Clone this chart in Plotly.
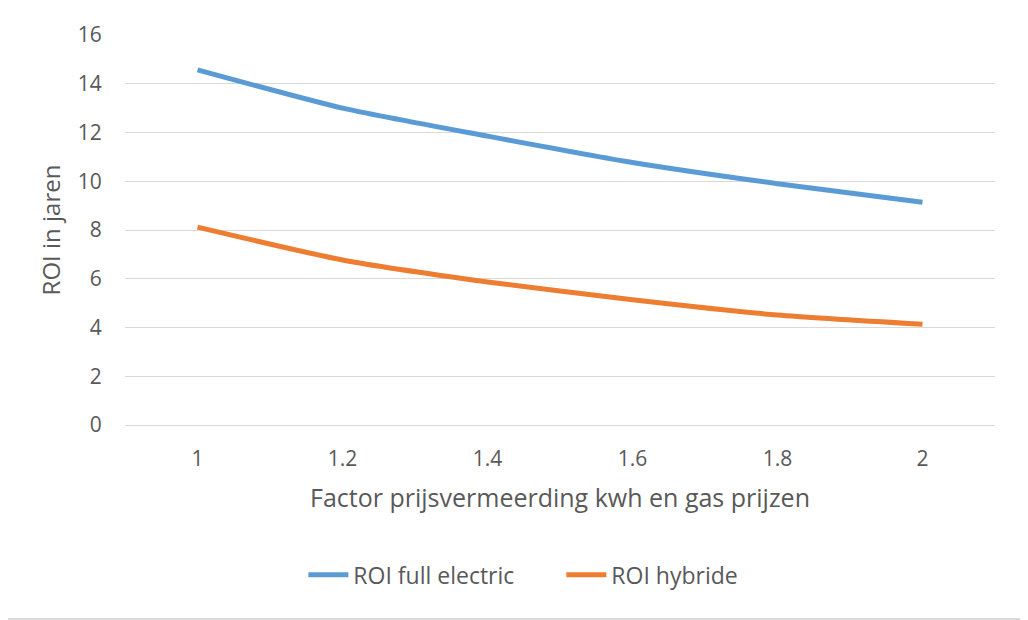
import plotly.graph_objects as go

# --- Data ---
factor = ["1", "1.2", "1.4", "1.6", "1.8", "2"]
roi_full_electric = [14.57, 13.0, 11.85, 10.77, 9.9, 9.14]
roi_hybride = [8.12, 6.77, 5.87, 5.14, 4.51, 4.13]

grey_text = "#595959"
font_family = "Open Sans, Noto Sans, sans-serif"

fig = go.Figure()
fig.add_trace(
    go.Scatter(
        x=factor,
        y=roi_full_electric,
        mode="lines",
        line=dict(color="#5B9BD5", width=5, shape="spline", smoothing=0.6),
        name="ROI full electric",
    )
)
fig.add_trace(
    go.Scatter(
        x=factor,
        y=roi_hybride,
        mode="lines",
        line=dict(color="#ED7D31", width=5, shape="spline", smoothing=0.6),
        name="ROI hybride",
    )
)

# page has an 8px body margin, so margins are shifted by that
fig.update_layout(
    width=1028,
    height=620,
    margin=dict(l=117, r=41, t=21, b=203),
    paper_bgcolor="white",
    plot_bgcolor="white",
    font=dict(family=font_family, color=grey_text, size=21),
    showlegend=True,
    legend=dict(
        orientation="h",
        x=0.205,
        xanchor="left",
        y=-0.384,
        yanchor="middle",
        font=dict(size=23, color=grey_text),
        itemwidth=40,
        entrywidth=203,
    ),
    xaxis=dict(
        type="category",
        range=[-0.5, 5.5],
        showgrid=False,
        zeroline=False,
        showline=False,
        ticks="outside",
        ticklen=15,
        tickcolor="rgba(0,0,0,0)",
        tickfont=dict(size=21, color=grey_text),
        title=dict(
            text="Factor prijsvermeerding kwh en gas prijzen",
            font=dict(size=25, color=grey_text),
            standoff=18,
        ),
    ),
    yaxis=dict(
        range=[0, 16],
        dtick=2,
        showgrid=True,
        gridcolor="#D9D9D9",
        gridwidth=1.3,
        zeroline=True,
        zerolinecolor="#D9D9D9",
        zerolinewidth=1.3,
        showline=False,
        ticks="outside",
        ticklen=18,
        tickcolor="rgba(0,0,0,0)",
        tickfont=dict(size=21, color=grey_text),
        title=dict(text="ROI in jaren", font=dict(size=24, color=grey_text), standoff=10),
    ),
    shapes=[
        dict(
            type="line",
            xref="paper",
            yref="paper",
            x0=-125 / 870,
            x1=(1028 - 125) / 870,
            y0=-197 / 396,
            y1=-197 / 396,
            line=dict(color="#D9D9D9", width=2),
        )
    ],
)

fig.write_html("out.html")
